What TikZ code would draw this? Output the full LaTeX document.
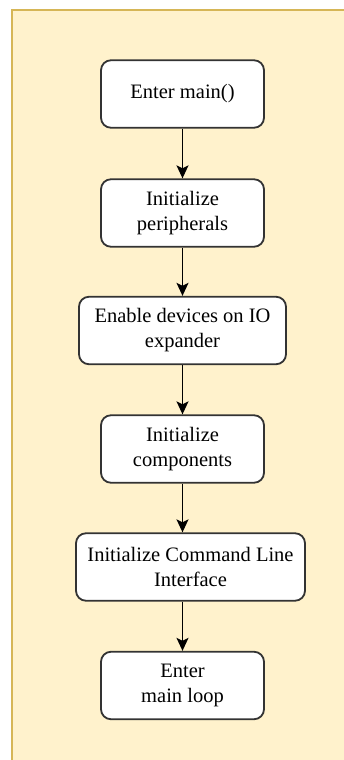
\documentclass[tikz,border=0pt]{standalone}
\usepackage{fontspec}
\setmainfont{Liberation Serif}
\usetikzlibrary{arrows.meta}
\definecolor{panelfill}{HTML}{FFF2CC}
\definecolor{panelline}{HTML}{D6B656}
\definecolor{boxline}{HTML}{333333}
\tikzset{
  stepbox/.style={draw=boxline, line width=1.8pt, fill=white, rounded corners=10pt,
    minimum width=163pt, minimum height=67.5pt, align=center, inner sep=0pt,
    font=\fontsize{20.5pt}{25pt}\selectfont, text=black},
  flow/.style={draw=black, line width=1.5pt,
    -{Stealth[length=13pt, width=12pt, inset=3pt]}}
}
\begin{document}
\begin{tikzpicture}[x=1pt, y=-1pt]
  \useasboundingbox (0,0) rectangle (343,760);
  % background panel, its right and bottom edges run off the page
  \fill[white] (0,0) rectangle (343,760);
  \draw[panelline, fill=panelfill, line width=2pt] (11.5,10.5) rectangle (350,770);

  \node[stepbox] (b1) at (182.5,94) {Enter main()};
  \node[stepbox] (b2) at (182.5,213) {Initialize\\peripherals};
  \node[stepbox, minimum width=207pt] (b3) at (182.5,330.5) {Enable devices on IO\\expander};
  \node[stepbox] (b4) at (182.5,449) {Initialize\\components};
  \node[stepbox, minimum width=229pt] (b5) at (190.5,567) {Initialize Command Line\\Interface};
  \node[stepbox] (b6) at (182.5,685.5) {Enter\\main loop};

  \draw[flow] (b1.south) -- (b2.north);
  \draw[flow] (b2.south) -- (b3.north);
  \draw[flow] (b3.south) -- (b4.north);
  \draw[flow] (b4.south) -- (b4.south |- b5.north);
  \draw[flow] (b5.south -| b4.south) -- (b6.north);
\end{tikzpicture}
\end{document}
